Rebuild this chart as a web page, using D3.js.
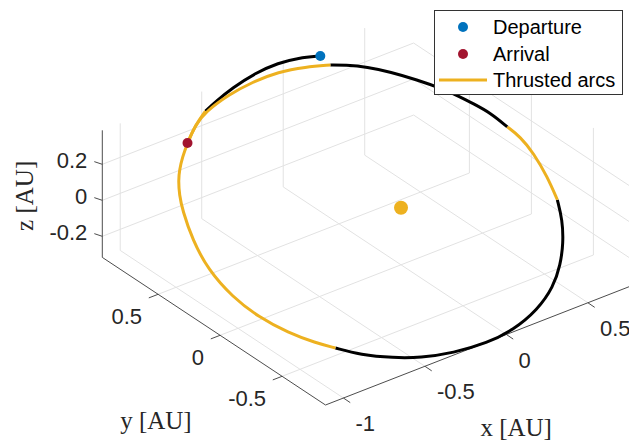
<!DOCTYPE html>
<html lang="en">
<head>
<meta charset="UTF-8">
<title>Low-thrust transfer</title>
<script src="https://d3js.org/d3.v7.min.js"></script>
<style>
  body { margin: 0; background: #fff; }
  svg { display: block; background: #fff; }
  .grid { stroke: #e2e2e2; stroke-width: 1; fill: none; }
  .axis { stroke: #4d4d4d; stroke-width: 1; fill: none; }
  .tick-label { font-family: "Liberation Sans", Arial, sans-serif; font-size: 22px; fill: #262626; }
  .axis-label { font-family: "Liberation Serif", "Times New Roman", serif; font-size: 25px; fill: #262626; }
  .legend-text { font-family: "Liberation Sans", Arial, sans-serif; font-size: 20px; fill: #000; }
</style>
</head>
<body>
<svg width="629" height="443"></svg>
<script>
// axis limits and ticks [AU]
const xLim = [-1.11, 0.8];
const yLim = [-0.85, 0.95];
const zLim = [-0.317, 0.389];
const xTicks = [-1, -0.5, 0, 0.5];
const yTicks = [-0.5, 0, 0.5];
const zTicks = [-0.2, 0, 0.2];

// trajectory pieces [x, y, z] in AU, in flight order
const coastArcs = [
  [[0.227,0.949,0.331],[0.123,0.990,0.338],[0.017,1.011,0.338],[-0.122,1.014,0.330],[-0.280,0.992,0.312],[-0.408,0.961,0.294],[-0.486,0.938,0.281]],
  [[-0.823,-0.553,-0.237],[-0.740,-0.646,-0.262],[-0.607,-0.737,-0.284],[-0.489,-0.799,-0.297],[-0.326,-0.851,-0.304],[-0.139,-0.879,-0.302],[0.025,-0.874,-0.289],[0.206,-0.829,-0.263],[0.364,-0.750,-0.227],[0.479,-0.656,-0.187],[0.576,-0.552,-0.147],[0.660,-0.434,-0.103],[0.714,-0.322,-0.061]],
  [[0.774,0.160,0.103],[0.754,0.270,0.138],[0.714,0.354,0.164],[0.683,0.419,0.184],[0.630,0.511,0.210],[0.560,0.604,0.237],[0.473,0.707,0.265],[0.391,0.785,0.286],[0.302,0.846,0.301],[0.237,0.881,0.308]]
];
const thrustArcs = [
  [[-0.486,0.938,0.281],[-0.583,0.891,0.260],[-0.687,0.819,0.229],[-0.763,0.760,0.204],[-0.825,0.702,0.181],[-0.868,0.654,0.162],[-0.921,0.577,0.133],[-0.965,0.494,0.103],[-1.036,0.320,0.041],[-1.081,0.133,-0.025],[-1.079,-0.058,-0.088],[-1.041,-0.219,-0.140],[-0.971,-0.369,-0.185],[-0.891,-0.481,-0.217],[-0.823,-0.553,-0.237]],
  [[0.714,-0.322,-0.061],[0.758,-0.184,-0.012],[0.789,-0.031,0.040],[0.793,0.080,0.078],[0.774,0.160,0.103]],
  [[0.237,0.881,0.308],[0.120,0.928,0.317],[-0.018,0.966,0.321],[-0.170,0.975,0.314],[-0.324,0.966,0.301],[-0.490,0.933,0.280],[-0.583,0.891,0.260],[-0.687,0.819,0.229]]
];
const departure = [0.227, 0.949, 0.331];
const arrival = [-0.687, 0.819, 0.229];
const sun = [0, 0, 0];

const svg = d3.select("svg");

// box projection: corner (xmin,ymin,zmin) and the screen vectors of each box edge
const origin = [325.5, 405];
const xEdge = [311.3, -121.3];
const yEdge = [-223.2, -147.6];
const zEdge = -127.1;
const fx = d3.scaleLinear().domain(xLim).range([0, 1]);
const fy = d3.scaleLinear().domain(yLim).range([0, 1]);
const fz = d3.scaleLinear().domain(zLim).range([0, 1]);

function proj(p) {
  const a = fx(p[0]), b = fy(p[1]), c = fz(p[2]);
  return [origin[0] + a * xEdge[0] + b * yEdge[0],
          origin[1] + a * xEdge[1] + b * yEdge[1] + c * zEdge];
}

function seg(g, p, q, cls) {
  const s = proj(p), e = proj(q);
  g.append("line").attr("class", cls)
    .attr("x1", s[0]).attr("y1", s[1]).attr("x2", e[0]).attr("y2", e[1]);
}

// grid on the back walls and floor
const grid = svg.append("g");
xTicks.forEach(t => seg(grid, [t, yLim[1], zLim[0]], [t, yLim[1], zLim[1]], "grid"));
zTicks.forEach(t => seg(grid, [xLim[0], yLim[1], t], [xLim[1], yLim[1], t], "grid"));
yTicks.forEach(t => seg(grid, [xLim[1], t, zLim[0]], [xLim[1], t, zLim[1]], "grid"));
zTicks.forEach(t => seg(grid, [xLim[1], yLim[0], t], [xLim[1], yLim[1], t], "grid"));
xTicks.forEach(t => seg(grid, [t, yLim[0], zLim[0]], [t, yLim[1], zLim[0]], "grid"));
yTicks.forEach(t => seg(grid, [xLim[0], t, zLim[0]], [xLim[1], t, zLim[0]], "grid"));

// axis lines
const axes = svg.append("g");
seg(axes, [xLim[0], yLim[0], zLim[0]], [xLim[1], yLim[0], zLim[0]], "axis");
seg(axes, [xLim[0], yLim[0], zLim[0]], [xLim[0], yLim[1], zLim[0]], "axis");
seg(axes, [xLim[0], yLim[1], zLim[0]], [xLim[0], yLim[1], zLim[1]], "axis");

// ticks + labels
function tick(p, d, lab, dx, dy, anchor) {
  const s = proj(p);
  axes.append("line").attr("class", "axis")
    .attr("x1", s[0]).attr("y1", s[1]).attr("x2", s[0] + d[0]).attr("y2", s[1] + d[1]);
  svg.append("text").attr("class", "tick-label")
    .attr("x", s[0] + dx).attr("y", s[1] + dy)
    .attr("text-anchor", anchor).text(lab);
}
xTicks.forEach(t => tick([t, yLim[0], zLim[0]], [6.8, 4.6], String(t), 12, 33, "start"));
yTicks.forEach(t => tick([xLim[0], t, zLim[0]], [-9.3, 3.6], String(t), -16, 30, "end"));
zTicks.forEach(t => tick([xLim[0], yLim[1], t], [-8, -2.7], String(t), -15, 4, "end"));

// axis titles
const xMid = proj([(xLim[0] + xLim[1]) / 2, yLim[0], zLim[0]]);
svg.append("text").attr("class", "axis-label").attr("text-anchor", "middle")
  .attr("x", xMid[0] + 35).attr("y", 436).text("x [AU]");
const yMid = proj([xLim[0], (yLim[0] + yLim[1]) / 2, zLim[0]]);
svg.append("text").attr("class", "axis-label").attr("text-anchor", "middle")
  .attr("x", yMid[0] - 58).attr("y", 429).text("y [AU]");
const zMid = proj([xLim[0], yLim[1], (zLim[0] + zLim[1]) / 2]);
svg.append("text").attr("class", "axis-label").attr("text-anchor", "middle")
  .attr("transform", `translate(33,${zMid[1] + 2}) rotate(-90)`).text("z [AU]");

// trajectory
const line = d3.line().x(d => proj(d)[0]).y(d => proj(d)[1]).curve(d3.curveBasis);
svg.append("g").selectAll("path").data(coastArcs).join("path")
  .attr("d", line).attr("fill", "none").attr("stroke", "#000").attr("stroke-width", 3);
svg.append("g").selectAll("path").data(thrustArcs).join("path")
  .attr("d", line).attr("fill", "none").attr("stroke", "#EDB120").attr("stroke-width", 3);

// bodies
const bodies = [
  { p: sun, r: 7, c: "#EDB120" },
  { p: departure, r: 5, c: "#0072BD" },
  { p: arrival, r: 5, c: "#A2142F" }
];
svg.append("g").selectAll("circle").data(bodies).join("circle")
  .attr("cx", d => proj(d.p)[0]).attr("cy", d => proj(d.p)[1])
  .attr("r", d => d.r).attr("fill", d => d.c);

// legend
const lg = svg.append("g");
lg.append("rect").attr("x", 434.5).attr("y", 10.5).attr("width", 188).attr("height", 84)
  .attr("fill", "#fff").attr("stroke", "#333").attr("stroke-width", 1);
lg.append("circle").attr("cx", 463).attr("cy", 27).attr("r", 5).attr("fill", "#0072BD");
lg.append("text").attr("class", "legend-text").attr("x", 493).attr("y", 34).text("Departure");
lg.append("circle").attr("cx", 463).attr("cy", 54).attr("r", 5).attr("fill", "#A2142F");
lg.append("text").attr("class", "legend-text").attr("x", 493).attr("y", 61).text("Arrival");
lg.append("line").attr("x1", 439).attr("x2", 487).attr("y1", 80).attr("y2", 80)
  .attr("stroke", "#EDB120").attr("stroke-width", 3);
lg.append("text").attr("class", "legend-text").attr("x", 493).attr("y", 87).text("Thrusted arcs");
</script>
</body>
</html>
